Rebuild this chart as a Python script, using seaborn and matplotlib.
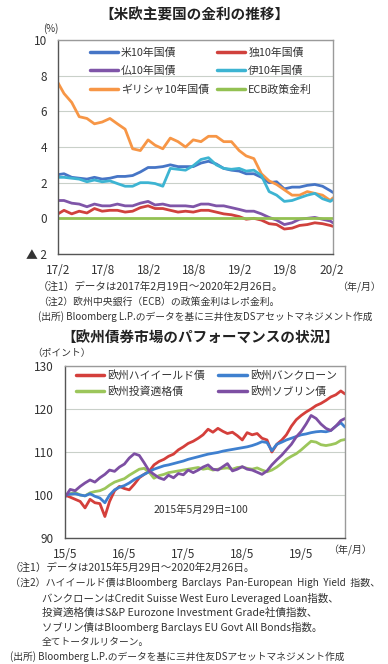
import numpy as np
import pandas as pd
import matplotlib
matplotlib.use('Agg')
import matplotlib.pyplot as plt
import seaborn as sns

sns.set_style('white')
plt.rcParams['font.family'] = ['Noto Sans CJK JP', 'DejaVu Sans']

# ---- top chart data: 10y yields (%), 2017/2/19 - 2020/2/26 ----
rate_dates = ([pd.Timestamp('2017-02-19')]
              + list(pd.date_range('2017-03-01', '2020-02-01', freq='MS') + pd.Timedelta(days=14))
              + [pd.Timestamp('2020-02-26')])
us10 = [2.45, 2.5, 2.3, 2.25, 2.2, 2.3, 2.2, 2.25, 2.35, 2.35, 2.4, 2.6, 2.85, 2.85, 2.9, 3.0,
        2.9, 2.9, 2.9, 3.1, 3.2, 3.05, 2.8, 2.7, 2.65, 2.5, 2.5, 2.3, 2.0, 2.05, 1.65, 1.75,
        1.75, 1.85, 1.9, 1.8, 1.55, 1.45]
de10 = [0.25, 0.45, 0.25, 0.4, 0.3, 0.55, 0.4, 0.45, 0.45, 0.35, 0.4, 0.6, 0.7, 0.55, 0.55, 0.45,
        0.35, 0.4, 0.35, 0.45, 0.45, 0.35, 0.25, 0.2, 0.1, -0.05, 0.0, -0.1, -0.3, -0.35, -0.6, -0.55,
        -0.4, -0.35, -0.25, -0.3, -0.4, -0.45]
fr10 = [1.0, 1.0, 0.85, 0.8, 0.65, 0.8, 0.7, 0.7, 0.8, 0.7, 0.7, 0.85, 0.95, 0.75, 0.8, 0.7,
        0.7, 0.7, 0.65, 0.8, 0.8, 0.7, 0.7, 0.6, 0.5, 0.4, 0.4, 0.25, 0.05, -0.1, -0.35, -0.25,
        -0.05, 0.0, 0.05, -0.05, -0.15, -0.25]
it10 = [2.3, 2.3, 2.25, 2.2, 2.05, 2.15, 2.05, 2.1, 1.95, 1.8, 1.8, 2.0, 2.0, 1.95, 1.8, 2.8,
        2.75, 2.7, 2.95, 3.3, 3.4, 3.0, 2.8, 2.75, 2.8, 2.65, 2.7, 2.4, 1.5, 1.3, 0.95, 1.0,
        1.15, 1.3, 1.4, 1.1, 0.95, 1.05]
gr10 = [7.6, 7.0, 6.5, 5.7, 5.6, 5.3, 5.4, 5.6, 5.3, 5.0, 3.9, 3.8, 4.4, 4.1, 3.9, 4.5,
        4.3, 4.0, 4.4, 4.3, 4.6, 4.6, 4.3, 4.3, 3.8, 3.5, 3.35, 2.5, 2.1, 1.9, 1.6, 1.3,
        1.3, 1.5, 1.4, 1.3, 1.0, 1.15]
ecb = [0.0] * len(rate_dates)

rate_names = ['米10年国債', '仏10年国債', 'ギリシャ10年国債', '独10年国債', '伊10年国債', 'ECB政策金利']
rate_colors = ['#4675c6', '#7f55a8', '#f79646', '#d0413d', '#3db4d2', '#93c152']
rate_ticks = ['17/2', '17/8', '18/2', '18/8', '19/2', '19/8', '20/2']

# ---- bottom chart data: index, 2015/5/29 = 100 ----
bond_dates = ([pd.Timestamp('2015-05-29')]
              + list(pd.date_range('2015-06-30', '2020-01-31', freq='ME'))
              + [pd.Timestamp('2020-02-26')])
high_yield = [100, 99.5, 99.0, 98.5, 97.0, 99.0, 98.2, 98.0, 95.0, 98.5,
              101.0, 102.0, 101.5, 101.2, 102.5, 104.0, 104.8, 105.5, 107.0, 107.8,
              108.3, 109.0, 109.5, 110.5, 111.2, 112.0, 112.5, 113.2, 114.0, 115.3,
              114.6, 115.5, 114.8, 114.3, 114.6, 113.8, 112.8, 114.5, 114.0, 114.3,
              113.2, 112.8, 110.0, 111.8, 112.8, 114.0, 116.0, 117.5, 118.5, 119.3,
              120.0, 120.8, 121.3, 122.0, 122.8, 123.3, 124.2, 123.5]
bank_loan = [100, 100.2, 100.3, 100.0, 99.8, 100.3, 99.7, 99.3, 98.2, 100.0,
             101.2, 101.8, 102.2, 102.8, 103.6, 104.2, 104.8, 105.4, 106.0, 106.4,
             106.8, 107.0, 107.3, 107.6, 107.9, 108.3, 108.6, 108.9, 109.2, 109.5,
             109.7, 109.9, 110.2, 110.4, 110.6, 110.8, 111.0, 111.2, 111.5, 111.9,
             112.4, 112.2, 110.3, 111.8, 112.3, 112.8, 113.2, 113.6, 114.0, 114.2,
             114.5, 114.7, 114.8, 114.7, 115.0, 116.0, 116.8, 115.8]
inv_grade = [100, 100.3, 100.6, 100.0, 99.8, 100.5, 100.8, 101.0, 101.5, 102.3,
             103.0, 103.4, 103.8, 104.6, 105.3, 106.0, 106.2, 105.3, 103.9, 104.5,
             104.8, 105.2, 105.4, 105.6, 105.8, 106.0, 106.2, 106.4, 106.0, 106.2,
             105.8, 106.0, 106.2, 106.3, 106.0, 106.4, 106.5, 106.2, 106.0, 106.3,
             105.8, 105.4, 105.8, 106.5, 107.4, 108.3, 109.0, 109.6, 110.5, 111.5,
             112.5, 112.3, 111.7, 111.5, 111.7, 112.0, 112.7, 112.9]
sovereign = [99.5, 101.3, 101.0, 102.0, 102.8, 103.5, 103.0, 104.0, 104.8, 105.8,
             105.5, 106.5, 107.2, 108.6, 109.6, 109.2, 107.5, 105.6, 104.8, 104.0,
             103.6, 104.6, 104.0, 105.0, 104.7, 105.8, 105.2, 105.8, 106.5, 107.0,
             106.0, 105.8, 106.6, 107.3, 105.6, 106.0, 106.6, 106.0, 105.8, 105.3,
             104.8, 105.6, 107.0, 108.2, 109.3, 110.5, 111.8, 113.5, 114.8, 116.5,
             118.5, 117.8, 116.5, 115.5, 115.0, 116.0, 117.3, 117.8]

bond_names = ['欧州ハイイールド債', '欧州投資適格債', '欧州バンクローン', '欧州ソブリン債']
bond_colors = ['#d43f3b', '#9cc65b', '#3f80cf', '#7d4fa3']
bond_ticks = ['15/5', '16/5', '17/5', '18/5', '19/5']

W, H = 388, 664
fig = plt.figure(figsize=(W / 100, H / 100), dpi=100)
renderer = fig.canvas.get_renderer()


def px(x, y):
    return x / W, 1 - y / H


def note(x, y, s, right_edge, size=7.3):
    # nudge the font size so the line ends about where the original does
    t = fig.text(*px(x, y), s, fontsize=size, va='center', color='#333333')
    w = t.get_window_extent(renderer).width
    t.set_fontsize(float(np.clip(size * (right_edge - x) / w, 7.0, 7.6)))
    return t


def style_axes(ax):
    for s in ['left', 'bottom']:
        ax.spines[s].set_color('#555555')
    for s in ['top', 'right']:
        ax.spines[s].set_color('#9a9a9a')
    for s in ax.spines.values():
        s.set_linewidth(1.0)
    ax.grid(axis='y', color='#c9d0c9', linewidth=0.8)
    ax.set_axisbelow(True)
    ax.set_xlabel('')
    ax.set_ylabel('')
    ax.tick_params(axis='x', direction='in', length=4, color='#555555', pad=7,
                   labelsize=8.5, labelcolor='#333333')
    ax.tick_params(axis='y', length=0, pad=8, labelsize=8.5, labelcolor='#333333')


# ================= top chart =================
fig.text(*px(194, 15), '【米欧主要国の金利の推移】', ha='center', va='center',
         fontsize=10.5, fontweight='bold', color='#222222')
fig.text(*px(43, 29), '(%)', ha='left', va='center', fontsize=7, color='#333333')

ax1 = fig.add_axes([58 / W, 1 - 254 / H, 275 / W, 214 / H])
rates = pd.DataFrame({
    'date': rate_dates * 6,
    'value': us10 + fr10 + gr10 + de10 + it10 + ecb,
    'series': np.repeat(rate_names, len(rate_dates)),
})
sns.lineplot(data=rates, x='date', y='value', hue='series', hue_order=rate_names,
             palette=rate_colors, linewidth=2.0, estimator=None, ax=ax1)
ax1.set_ylim(-2, 10)
ax1.set_yticks([10, 8, 6, 4, 2, 0, -2])
ax1.set_yticklabels(['10', '8', '6', '4', '2', '0', '▲ 2'])
ax1.set_xlim(rate_dates[0], rate_dates[-1])
ax1.set_xticks(pd.date_range('2017-02-19', periods=7, freq=pd.DateOffset(months=6)))
ax1.set_xticklabels(rate_ticks)
style_axes(ax1)
h, l = ax1.get_legend_handles_labels()
leg = ax1.legend(h, l, ncol=2, loc='upper left', bbox_to_anchor=(0.115, 0.965),
                 frameon=False, fontsize=7.8, handlelength=2.6, handletextpad=0.3,
                 columnspacing=0.7, labelspacing=0.75, borderpad=0, borderaxespad=0)
for line in leg.get_lines():
    line.set_linewidth(2.5)
for t in leg.get_texts():
    t.set_color('#333333')

note(38, 287, '（注1）データは2017年2月19日～2020年2月26日。', 283)
fig.text(*px(381, 287), '（年/月）', fontsize=7.2, va='center', ha='right', color='#333333')
note(38, 302, '（注2）欧州中央銀行（ECB）の政策金利はレポ金利。', 280)
note(38, 317, '(出所) Bloomberg L.P.のデータを基に三井住友DSアセットマネジメント作成', 370)

# ================= bottom chart =================
fig.text(*px(200, 338), '【欧州債券市場のパフォーマンスの状況】', ha='center', va='center',
         fontsize=10.5, fontweight='bold', color='#222222')
fig.text(*px(32, 353), '（ポイント）', ha='left', va='center', fontsize=7, color='#333333')

ax2 = fig.add_axes([65 / W, 1 - 538 / H, 280 / W, 172 / H])
bonds = pd.DataFrame({
    'date': bond_dates * 4,
    'value': high_yield + inv_grade + bank_loan + sovereign,
    'series': np.repeat(bond_names, len(bond_dates)),
})
sns.lineplot(data=bonds, x='date', y='value', hue='series', hue_order=bond_names,
             palette=bond_colors, linewidth=2.0, estimator=None, ax=ax2)
ax2.set_ylim(90, 130)
ax2.set_yticks([90, 100, 110, 120, 130])
ax2.set_xlim(bond_dates[0], bond_dates[-1])
ax2.set_xticks(pd.date_range('2015-05-29', periods=5, freq=pd.DateOffset(years=1)))
ax2.set_xticklabels(bond_ticks)
style_axes(ax2)
h, l = ax2.get_legend_handles_labels()
leg2 = ax2.legend(h, l, ncol=2, loc='upper left', bbox_to_anchor=(0.04, 0.975),
                  frameon=False, fontsize=7.8, handlelength=2.6, handletextpad=0.3,
                  columnspacing=1.2, labelspacing=0.45, borderpad=0, borderaxespad=0)
for line in leg2.get_lines():
    line.set_linewidth(2.5)
for t in leg2.get_texts():
    t.set_color('#333333')
ax2.text(0.485, 0.163, '2015年5月29日=100', transform=ax2.transAxes, ha='center',
         va='center', fontsize=7.5, color='#333333')

fig.text(*px(350, 550), '（年/月）', fontsize=7.2, va='center', ha='center', color='#333333')
note(10, 568, '（注1）データは2015年5月29日～2020年2月26日。', 263)
note(10, 583, '（注2）ハイイールド債はBloomberg  Barclays  Pan-European  High  Yield  指数、', 380)
note(42, 598, 'バンクローンはCredit Suisse West Euro Leveraged Loan指数、', 338)
note(42, 613, '投資適格債はS&P Eurozone Investment Grade社債指数、', 325)
note(42, 627, 'ソブリン債はBloomberg Barclays EU Govt All Bonds指数。', 322)
note(42, 642, '全てトータルリターン。', 138)
note(10, 657, '(出所) Bloomberg L.P.のデータを基に三井住友DSアセットマネジメント作成', 343)

fig.savefig('out.png', dpi=100)
